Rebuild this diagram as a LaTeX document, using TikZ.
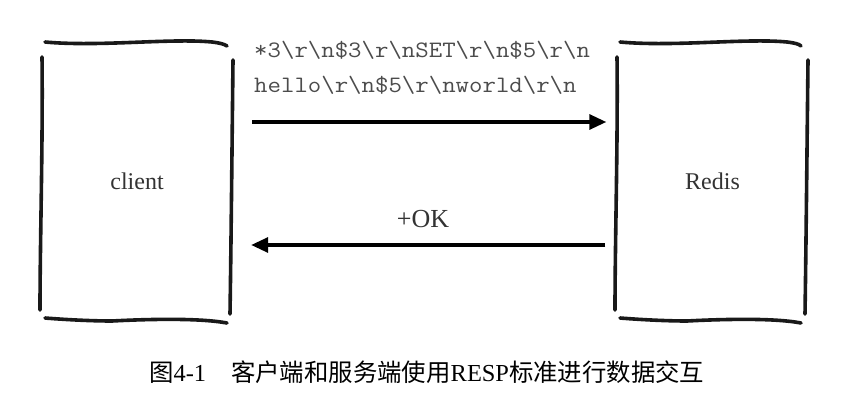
\documentclass[tikz,border=0pt]{standalone}
\usepackage{fontspec}
\setmainfont{Liberation Serif}
\setmonofont{Latin Modern Mono}[FakeStretch=1.11]
\newfontfamily\cjk{Noto Sans CJK SC}
\usetikzlibrary{arrows.meta}
\begin{document}
\begin{tikzpicture}[x=1pt,y=-1pt,
  sketch/.style={line width=3.6pt,line cap=round,black!90},
  arr/.style={line width=3.2pt,-{Triangle[length=17pt,width=15pt]}},
  boxnode/.style={minimum width=190pt,minimum height=277pt,inner sep=0pt,font=\fontsize{24}{28}\selectfont,text=black!80},
  codetxt/.style={anchor=base west,inner sep=0pt,font=\ttfamily\fontsize{23.5}{27}\selectfont,text=black!70},
  lbl/.style={inner sep=0pt,font=\fontsize{26}{30}\selectfont,text=black!80},
  captxt/.style={inner sep=0pt,font=\fontsize{24.4}{28}\selectfont}]
\useasboundingbox (0,0) rectangle (862,409);
\fill[white] (0,0) rectangle (862,409);
% nodes
\node[boxnode] (client) at (137,181.5) {client};
\node[boxnode] (redis) at (712.5,181.5) {Redis};
% sketchy left box
\draw[sketch] (45,42) .. controls (100,47) and (170,38) .. (212,42) .. controls (220,43) and (224,44) .. (227,46);
\draw[sketch] (42,57) .. controls (43,140) and (40,240) .. (40,310);
\draw[sketch] (233,60) .. controls (232,150) and (231,250) .. (230,314);
\draw[sketch] (45,318) .. controls (70,320) and (95,321) .. (112,321) .. controls (150,319) and (200,318) .. (227,323);
% sketchy right box
\draw[sketch] (620,42) .. controls (675,47) and (745,38) .. (787,42) .. controls (795,43) and (799,44) .. (801,46);
\draw[sketch] (617,57) .. controls (618,140) and (615,240) .. (615,310);
\draw[sketch] (808,60) .. controls (807,150) and (806,250) .. (805,314);
\draw[sketch] (620,318) .. controls (645,320) and (670,321) .. (687,321) .. controls (725,319) and (775,318) .. (801,323);
% connectors
\draw[arr] ([shift={(20,-59.5)}]client.east) -- ([shift={(-11,-59.5)}]redis.west);
\draw[arr] ([shift={(-12,63.5)}]redis.west) -- ([shift={(19,63.5)}]client.east);
% labels
\node[codetxt] (req1) at (254,58) {*3\textbackslash r\textbackslash n\$3\textbackslash r\textbackslash nSET\textbackslash r\textbackslash n\$5\textbackslash r\textbackslash n};
\node[codetxt] (req2) at (254,93) {hello\textbackslash r\textbackslash n\$5\textbackslash r\textbackslash nworld\textbackslash r\textbackslash n};
\node[lbl] (ok) at (423,219) {+OK};
\node[captxt,anchor=base west] (caption) at (149,381) {{\cjk 图}4-1\hspace{25pt}{\cjk 客户端和服务端使用}RESP{\cjk 标准进行数据交互}};
\end{tikzpicture}
\end{document}
